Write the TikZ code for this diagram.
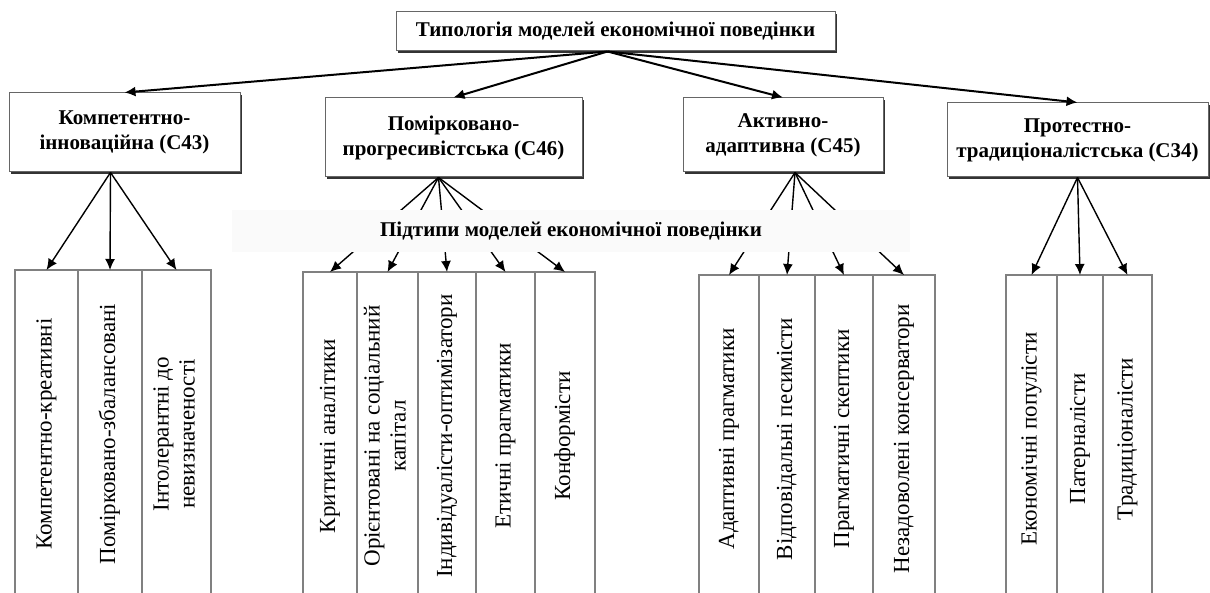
\documentclass[tikz,border=0pt]{standalone}
\usepackage{fontspec}
\usepackage{graphicx}
\setmainfont{Liberation Serif}
\usetikzlibrary{arrows.meta}
\usetikzlibrary{positioning}
\usetikzlibrary{shadows}

\newcommand{\vtext}[1]{\rotatebox{90}{\begin{tabular}{@{}c@{}}#1\end{tabular}}}

\begin{document}
\begin{tikzpicture}[
	x=0.5pt, y=-0.5pt,
	node distance=0pt,
	head/.style={draw=black!60, fill=white, line width=0.5pt, align=center,
		font=\bfseries\fontsize{10.5}{12.5}\selectfont,
		general shadow={fill=black!80, shadow xshift=1pt, shadow yshift=-1pt}},
	sub/.style={draw=black!50, fill=white, line width=0.6pt, minimum height=164pt,
		inner sep=0pt, outer sep=0pt, font=\fontsize{11.5}{13}\selectfont},
	link/.style={-{Latex[length=5.5pt, width=5pt]}, line width=0.7pt},
	mainlink/.style={link, line width=1pt}
]
\path[use as bounding box, clip] (0,0) rectangle (1210,593);

% top level
\node[head, minimum width=219.5pt, minimum height=19.5pt] (top) at (615.5,31.5) {Типологія моделей економічної поведінки};

% models
\node[head, minimum width=115.5pt, minimum height=39.5pt] (cat1) at (124.5,132.5) {Компетентно-\\інноваційна (С43)};
\node[head, minimum width=128.5pt, minimum height=39.5pt] (cat2) at (453.5,137.5) {Помірковано-\\прогресивістська (С46)};
\node[head, minimum width=100pt, minimum height=37pt] (cat3) at (783,135) {Активно-\\адаптивна (С45)};
\node[head, minimum width=130.5pt, minimum height=37pt] (cat4) at (1077.5,140) {Протестно-\\традиціоналістська (С34)};

\foreach \c in {cat1,cat2,cat3,cat4}
	\draw[mainlink] ([xshift=-4pt]top.south) -- (\c.north);

% subtypes
\node[sub, minimum width=31.5pt] (k11) at (46.5,434) {\vtext{Компетентно-креативні}};
\node[sub, minimum width=32pt, right=of k11] (k12) {\vtext{Помірковано-збалансовані}};
\node[sub, minimum width=34.5pt, right=of k12] (k13) {\vtext{Інтолерантні до\\невизначеності}};

\node[sub, minimum width=27pt] (k21) at (330,436) {\vtext{Критичні аналітики}};
\node[sub, minimum width=30.5pt, right=of k21] (k22) {\vtext{Орієнтовані на соціальний\\капітал}};
\node[sub, minimum width=29pt, right=of k22] (k23) {\vtext{Індивідуалісти-оптимізатори}};
\node[sub, minimum width=29.5pt, right=of k23] (k24) {\vtext{Етичні прагматики}};
\node[sub, minimum width=30pt, right=of k24] (k25) {\vtext{Конформісти}};

\node[sub, minimum width=30pt] (k31) at (729,439) {\vtext{Адаптивні прагматики}};
\node[sub, minimum width=28pt, right=of k31] (k32) {\vtext{Відповідальні песимісти}};
\node[sub, minimum width=29pt, right=of k32] (k33) {\vtext{Прагматичні скептики}};
\node[sub, minimum width=31pt, right=of k33] (k34) {\vtext{Незадоволені консерватори}};

\node[sub, minimum width=25.5pt] (k41) at (1031.5,439) {\vtext{Економічні популісти}};
\node[sub, minimum width=23pt, right=of k41] (k42) {\vtext{Патерналісти}};
\node[sub, minimum width=24.5pt, right=of k42] (k43) {\vtext{Традиціоналісти}};

\foreach \k in {k11,k12,k13}
	\draw[link] ([xshift=-7pt]cat1.south) -- (\k.north);
\foreach \k in {k21,k22,k23,k24,k25}
	\draw[link] ([xshift=-7.5pt]cat2.south) -- (\k.north);
\foreach \k in {k31,k32,k33,k34}
	\draw[link] ([xshift=6pt]cat3.south) -- (\k.north);
\foreach \k in {k41,k42,k43}
	\draw[link] (cat4.south) -- (\k.north);

% common caption over the links
\node[fill=black!2, minimum width=339pt, minimum height=21pt,
	font=\bfseries\fontsize{10.5}{12.5}\selectfont] (subtypes) at (571,231) {Підтипи моделей економічної поведінки};
\end{tikzpicture}
\end{document}
